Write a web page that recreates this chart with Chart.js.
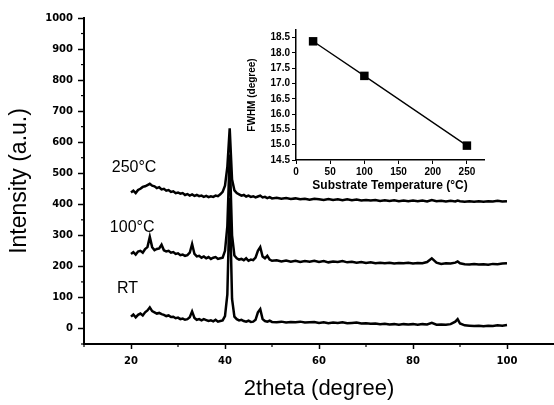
<!DOCTYPE html>
<html>
<head>
<meta charset="utf-8">
<script src="https://cdn.jsdelivr.net/npm/chart.js@4.4.0/dist/chart.umd.min.js"></script>
<style>
  html, body { margin: 0; padding: 0; background: #fff; }
  #wrap { position: relative; width: 554px; height: 405px; }
  #main { position: absolute; left: 0; top: 0; }
  #inset { position: absolute; left: 240px; top: 20px; }
</style>
</head>
<body>
<div id="wrap">
  <canvas id="main" width="554" height="405"></canvas>
  <canvas id="inset" width="260" height="180"></canvas>
</div>
<script>
// 2theta positions (degree)
const theta = [
  20,20.5,21,21.5,22,22.5,23,23.5,24,24.5,
  25,25.5,26,26.5,27,27.5,28,28.5,29,29.5,
  30,30.5,31,31.5,32,32.5,33,33.5,34,34.5,
  35,35.5,36,36.5,37,37.5,38,38.5,39,39.5,
  40,40.5,41,41.5,42,42.5,43,43.5,44,44.5,
  45,45.5,46,46.5,47,47.5,48,48.5,49,49.5,
  50,
  51,52,53,54,55,56,57,58,59,
  60,61,62,63,64,65,66,67,68,69,
  70,71,72,73,74,75,76,77,78,79,
  80,81,82,83,84,85,86,87,88,89,89.5,
  90,91,92,93,94,95,96,97,98,99,100
]

// intensity (a.u.), curves are offset as in the figure
const intRT = [
  38,45,36,44,48,42,52,58,68,56,
  52,48,50,46,44,40,42,37,38,33,
  35,30,32,28,30,36,55,34,28,30,
  26,30,27,24,26,23,28,22,24,26,
  40,110,420,95,38,30,26,28,24,22,
  25,21,22,28,52,62,30,24,22,25,
  21,
  20,22,19,21,20,22,19,20,21,
  18,20,17,19,18,20,17,18,19,16,
  17,15,16,14,15,13,14,12,14,13,
  14,12,14,13,18,12,13,12,14,22,30,
  16,10,9,8,9,7,9,8,10,9,11
]
const int100 = [
  240,246,238,248,250,244,256,262,295,262,
  252,256,258,270,252,248,250,244,246,240,
  242,236,238,234,236,244,272,240,232,234,
  228,232,226,230,224,228,230,224,226,228,
  250,330,560,300,235,226,222,224,220,226,
  218,222,220,228,250,262,232,226,234,222,
  218,
  220,216,219,215,218,214,217,215,218,
  214,217,213,216,214,217,213,215,212,214,
  211,213,210,212,210,212,209,211,210,212,
  209,211,210,214,226,212,208,210,209,212,216,
  210,207,206,208,206,207,205,208,207,209,210
]
const int250 = [
  438,444,436,446,450,456,458,462,466,460,
  458,452,455,448,450,444,446,440,442,436,
  438,434,436,430,433,428,432,427,430,426,
  428,424,427,423,426,424,428,426,432,440,
  460,520,645,480,445,436,432,428,430,425,
  428,424,426,422,425,428,422,424,420,423,
  419,
  421,418,420,417,419,416,418,415,418,
  416,414,417,414,416,413,416,413,415,412,
  414,412,414,411,413,411,413,410,412,410,
  412,410,412,409,414,410,411,409,411,409,412,
  410,408,410,408,410,408,410,409,411,409,410
]

const xTicks = [20, 40, 60, 80, 100]
const xTickLabels = ["20", "40", "60", "80", "100"]
const yTicks = [0, 100, 200, 300, 400, 500, 600, 700, 800, 900, 1000]
const yTickLabels = ["0","100","200","300","400","500","600","700","800","900","1000"]
const xMinor = [10, 30, 50, 70, 90]
const yMinor = [-50, 50, 150, 250, 350, 450, 550, 650, 750, 850, 950]

// inset: FWHM vs substrate temperature
const temps = [25, 100, 250]
const fwhm = [18.38, 17.25, 14.97]
const insetXTicks = [0, 50, 100, 150, 200, 250]
const insetXLabels = ["0", "50", "100", "150", "200", "250"]
const insetYTicks = [14.5, 15, 15.5, 16, 16.5, 17, 17.5, 18, 18.5]
const insetYLabels = ["14.5","15.0","15.5","16.0","16.5","17.0","17.5","18.0","18.5"]

const curveLabels = [
  { text: "250°C", x: 15.9, y: 518 },
  { text: "100°C", x: 15.5, y: 324 },
  { text: "RT", x: 17, y: 129 }
]

const toPts = (xs, ys) => xs.map((v, i) => ({ x: v, y: ys[i] }))

const tickFont = { family: "'DejaVu Sans'", weight: "bold", size: 10 }

const minorTicks = {
  id: "minorTicks",
  afterDraw(chart) {
    const { ctx, chartArea } = chart
    const sx = chart.scales.x, sy = chart.scales.y
    ctx.save()
    ctx.strokeStyle = "#000"
    ctx.lineWidth = 1.2
    xMinor.forEach(v => {
      const px = sx.getPixelForValue(v)
      ctx.beginPath()
      ctx.moveTo(px, chartArea.bottom)
      ctx.lineTo(px, chartArea.bottom + 3)
      ctx.stroke()
    })
    yMinor.forEach(v => {
      const py = sy.getPixelForValue(v)
      ctx.beginPath()
      ctx.moveTo(chartArea.left, py)
      ctx.lineTo(chartArea.left - 3, py)
      ctx.stroke()
    })
    ctx.restore()
  }
}

const textLabels = {
  id: "textLabels",
  afterDatasetsDraw(chart) {
    const { ctx } = chart
    const sx = chart.scales.x, sy = chart.scales.y
    ctx.save()
    ctx.fillStyle = "#000"
    ctx.font = "16px 'Liberation Sans'"
    ctx.textAlign = "left"
    ctx.textBaseline = "middle"
    curveLabels.forEach(l => {
      ctx.fillText(l.text, sx.getPixelForValue(l.x), sy.getPixelForValue(l.y))
    })
    ctx.restore()
  }
}

const lineSet = (data) => ({
  data: data,
  borderColor: "#000",
  borderWidth: 2.5,
  pointRadius: 0,
  tension: 0,
  fill: false
})

new Chart(document.getElementById("main"), {
  type: "line",
  data: {
    datasets: [
      lineSet(toPts(theta, intRT)),
      lineSet(toPts(theta, int100)),
      lineSet(toPts(theta, int250))
    ]
  },
  options: {
    responsive: false,
    animation: false,
    layout: { padding: { top: 18, right: 0, bottom: 0, left: 0 } },
    plugins: { legend: { display: false }, tooltip: { enabled: false } },
    scales: {
      x: {
        type: "linear",
        min: 10,
        max: 110,
        afterBuildTicks: s => { s.ticks = xTicks.map(v => ({ value: v })) },
        afterFit: s => { s.height = 61 },
        ticks: {
          font: tickFont, color: "#000", padding: 6, maxRotation: 0, autoSkip: false,
          callback: (v, i) => xTickLabels[i]
        },
        grid: { drawOnChartArea: false, tickLength: 5, tickColor: "#000", tickWidth: 1.5 },
        border: { color: "#000", width: 2 },
        title: {
          display: true,
          text: "2theta (degree)",
          color: "#000",
          font: { family: "'Liberation Sans'", size: 22 },
          padding: { top: 0, bottom: 3 }
        }
      },
      y: {
        type: "linear",
        min: -50,
        max: 1000,
        afterBuildTicks: s => { s.ticks = yTicks.map(v => ({ value: v })) },
        afterFit: s => { s.width = 84 },
        ticks: {
          font: tickFont, color: "#000", padding: 5, autoSkip: false,
          callback: (v, i) => yTickLabels[i]
        },
        grid: { drawOnChartArea: false, tickLength: 6, tickColor: "#000", tickWidth: 1.5 },
        border: { color: "#000", width: 2 },
        title: {
          display: true,
          text: "Intensity (a.u.)",
          color: "#000",
          font: { family: "'Liberation Sans'", size: 23 },
          padding: { top: 6, bottom: 0 }
        }
      }
    }
  },
  plugins: [minorTicks, textLabels]
})

const insetFont = { family: "'Liberation Sans'", weight: "bold", size: 10 }

new Chart(document.getElementById("inset"), {
  type: "line",
  data: {
    datasets: [{
      data: toPts(temps, fwhm),
      borderColor: "#000",
      borderWidth: 1.3,
      pointStyle: "rect",
      pointRadius: 6,
      pointBackgroundColor: "#000",
      pointBorderWidth: 0,
      tension: 0
    }]
  },
  options: {
    responsive: false,
    animation: false,
    layout: { padding: { top: 10, right: 16, bottom: 0, left: 0 } },
    plugins: { legend: { display: false }, tooltip: { enabled: false } },
    scales: {
      x: {
        type: "linear",
        min: 0,
        max: 275,
        afterBuildTicks: s => { s.ticks = insetXTicks.map(v => ({ value: v })) },
        afterFit: s => { s.height = 40 },
        ticks: {
          font: insetFont, color: "#000", padding: 2, maxRotation: 0, autoSkip: false,
          callback: (v, i) => insetXLabels[i]
        },
        grid: { drawOnChartArea: false, tickLength: 4, tickColor: "#000", tickWidth: 1 },
        border: { color: "#000", width: 1.5 },
        title: {
          display: true,
          text: "Substrate Temperature (°C)",
          color: "#000",
          font: { family: "'Liberation Sans'", weight: "bold", size: 12 },
          padding: { top: 0, bottom: 7 }
        }
      },
      y: {
        type: "linear",
        min: 14.5,
        max: 18.75,
        afterBuildTicks: s => { s.ticks = insetYTicks.map(v => ({ value: v })) },
        afterFit: s => { s.width = 56 },
        ticks: {
          font: insetFont,
          color: "#000",
          padding: 2,
          autoSkip: false,
          callback: (v, i) => insetYLabels[i]
        },
        grid: { drawOnChartArea: false, tickLength: 4, tickColor: "#000", tickWidth: 1 },
        border: { color: "#000", width: 1.5 },
        title: {
          display: true,
          text: "FWHM (degree)",
          color: "#000",
          font: { family: "'Liberation Sans'", weight: "bold", size: 10 },
          padding: { top: 6, bottom: 0 }
        }
      }
    }
  }
})
</script>
</body>
</html>
